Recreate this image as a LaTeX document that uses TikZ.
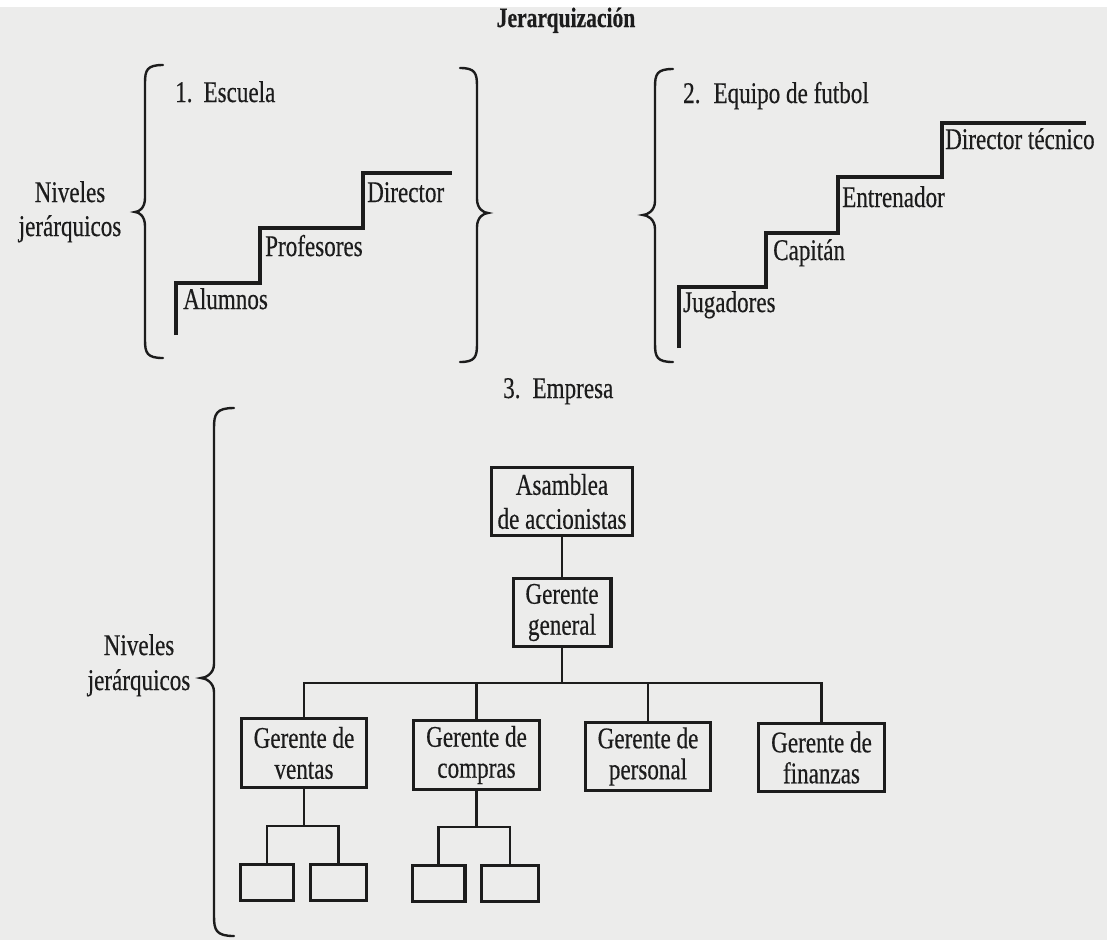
\documentclass[tikz,border=0pt]{standalone}
\usepackage{fontspec}
\setmainfont[FakeStretch=0.77, FakeBold=0.4]{Liberation Serif}
\definecolor{paper}{RGB}{236,236,235}
\definecolor{ink}{RGB}{28,28,28}
\begin{document}
\begin{tikzpicture}[x=1pt,y=-1pt,
  txt/.style={inner sep=0pt, text=ink, font=\fontsize{30}{31}\selectfont},
  lbl/.style={txt, anchor=base west},
  ctr/.style={txt, anchor=base},
  stair/.style={draw=ink, line width=3.4pt, line join=miter},
  brace/.style={draw=ink, line width=2.4pt, line cap=round},
  orgbox/.style={draw=ink, line width=3.2pt, inner sep=0pt, align=center, text=ink,
                 font=\fontsize{30}{31}\selectfont},
  blank/.style={draw=ink, line width=3.2pt, inner sep=0pt, minimum height=35.8pt},
  link/.style={draw=ink, line width=2.4pt}]

% page
\useasboundingbox (0,0) rectangle (1107,940);
\fill[white] (0,0) rectangle (1107,940);
\fill[paper] (0,7) rectangle (1107,940);

% title
\node[txt, anchor=base, font=\fontsize{28}{30}\selectfont\bfseries] (title) at (566,27) {Jerarquización};

% ---------- 1. Escuela ----------
\node[ctr] (niv1a) at (70,202) {Niveles};
\node[ctr] (niv1b) at (70,236) {jerárquicos};

\draw[brace] (163,65) .. controls (147,65) and (145,70) .. (145,83) -- (145,198)
  .. controls (145,208) and (139,212) .. (135,212)
  .. controls (139,212) and (145,216) .. (145,226) -- (145,340)
  .. controls (145,353) and (147,358) .. (163,358);
\draw[brace] (460,68) .. controls (475,68) and (477,73) .. (477,86) -- (477,199)
  .. controls (477,209) and (484,213) .. (488,213)
  .. controls (484,213) and (477,217) .. (477,227) -- (477,344)
  .. controls (477,357) and (475,362) .. (460,362);

\node[lbl] (esc) at (175,102) {1.\hspace{11pt}Escuela};
\draw[stair] (176,335) -- (176,283) -- (260,283) -- (260,228) -- (363,228)
  -- (363,173) -- (452,173);
\node[lbl] (alu) at (183,309) {Alumnos};
\node[lbl] (pro) at (265,256) {Profesores};
\node[lbl] (dir) at (367,202) {Director};

% ---------- 2. Equipo de futbol ----------
\draw[brace] (673,69) .. controls (657,69) and (655,74) .. (655,87) -- (655,201)
  .. controls (655,211) and (647,215) .. (643,215)
  .. controls (647,215) and (655,219) .. (655,229) -- (655,344)
  .. controls (655,357) and (657,362) .. (673,362);

\node[lbl] (equ) at (683,103) {2.\hspace{13pt}Equipo de futbol};
\draw[stair] (679,348) -- (679,287) -- (766,287) -- (766,233) -- (838,233)
  -- (838,177) -- (942,177) -- (942,123) -- (1086,123);
\node[lbl] (jug) at (683,312) {Jugadores};
\node[lbl] (cap) at (773,260) {Capitán};
\node[lbl] (ent) at (842,207) {Entrenador};
\node[lbl] (dtc) at (945,149) {Director técnico};

% ---------- 3. Empresa ----------
\node[lbl] (emp) at (503,398) {3.\hspace{12pt}Empresa};
\node[ctr] (niv2a) at (139,655) {Niveles};
\node[ctr] (niv2b) at (139,690) {jerárquicos};

\draw[brace] (234,408) .. controls (216,408) and (214,414) .. (214,428) -- (214,664)
  .. controls (214,674) and (205,678) .. (201,678)
  .. controls (205,678) and (214,682) .. (214,692) -- (214,916)
  .. controls (214,930) and (216,936) .. (234,936);

% organisation chart
\node[orgbox, minimum width=140.8pt, minimum height=67.8pt,
      font=\fontsize{30}{34}\selectfont] (asam) at (562,501.5) {Asamblea\\de accionistas};
\node[orgbox, minimum width=97.8pt, minimum height=67.8pt] (gg) at (562,612.5) {Gerente\\general};

\node[orgbox, minimum width=124.8pt, minimum height=68.8pt] (ventas) at (304,753) {Gerente de\\ventas};
\node[orgbox, minimum width=125.8pt, minimum height=68.8pt] (compras) at (476.5,755) {Gerente de\\compras};
\node[orgbox, minimum width=124.8pt, minimum height=67.8pt] (personal) at (648,756.5) {Gerente de\\personal};
\node[orgbox, minimum width=125.8pt, minimum height=67.8pt] (finanzas) at (821.5,757.5) {Gerente de\\finanzas};

\node[blank, minimum width=52.8pt] (v1) at (267,882.5) {};
\node[blank, minimum width=55.8pt] (v2) at (338.5,882.5) {};
\node[blank, minimum width=52.8pt] (c1) at (438.5,883.5) {};
\node[blank, minimum width=56.8pt] (c2) at (510,883.5) {};

\coordinate (bus) at (562,683);
\coordinate (vj) at (304,826);
\coordinate (cj) at (476.5,827);

\draw[link] (asam) -- (gg);
\draw[link] (gg.south) -- (bus);
\draw[link] (ventas.north) |- (bus) -| (finanzas.north);
\draw[link] (compras.north) -- (compras.north |- bus);
\draw[link] (personal.north) -- (personal.north |- bus);

\draw[link] (ventas.south) -- (vj);
\draw[link] (v1.north) |- (vj) -| (v2.north);
\draw[link] (compras.south) -- (cj);
\draw[link] (c1.north) |- (cj) -| (c2.north);

\end{tikzpicture}
\end{document}
